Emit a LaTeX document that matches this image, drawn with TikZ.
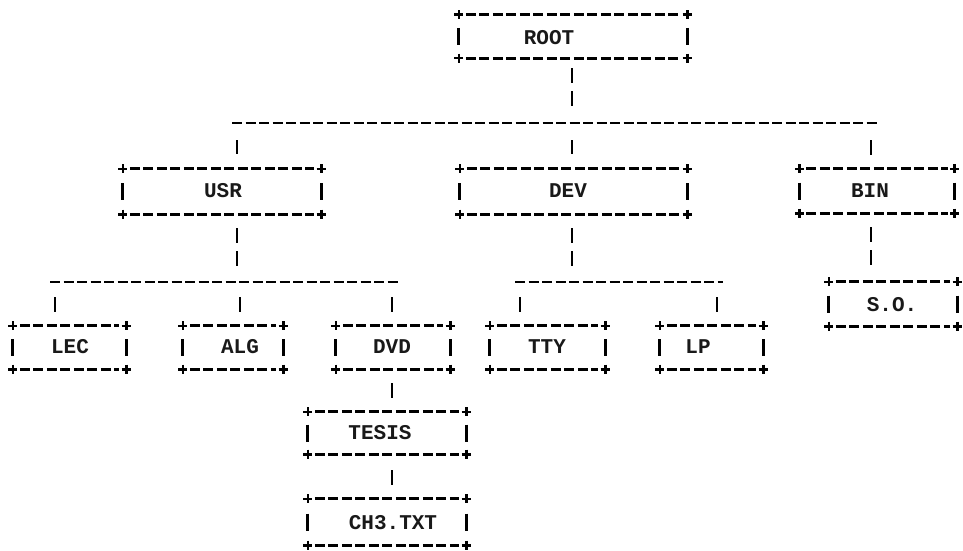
\documentclass[tikz,border=0pt]{standalone}
\usepackage{fontspec}
\setmonofont{Liberation Mono}
\usetikzlibrary{calc}
\tikzset{
  boxn/.style={rectangle, inner sep=0pt, draw=none},
  lbl/.style={inner sep=0pt, font=\ttfamily\bfseries\fontsize{21}{21}\selectfont, text=black!90},
  dl/.style={line width=2.8pt, dash pattern=on 10pt off 3.5pt, shorten <=7pt, shorten >=7pt},
  hl/.style={line width=2.8pt, dash pattern=on 10pt off 3.5pt},
  pl/.style={line width=2.6pt},
  sidebar/.style={line width=2.8pt},
  conn/.style={line width=2.8pt, dash pattern=on 15pt off 8pt},
}
\newcommand\asciibox[1]{%
  \draw[dl] (#1.north west) -- (#1.north east);
  \draw[dl] (#1.south west) -- (#1.south east);
  \foreach \a in {north west,north east,south west,south east}{
    \draw[pl] ($(#1.\a)+(-4.5,0)$) -- ($(#1.\a)+(4.5,0)$)
              ($(#1.\a)+(0,-4.5)$) -- ($(#1.\a)+(0,4.5)$);
  }
  \draw[sidebar] ($(#1.west)+(0,-8.5)$) -- ($(#1.west)+(0,8.5)$);
  \draw[sidebar] ($(#1.east)+(0,-8.5)$) -- ($(#1.east)+(0,8.5)$);
}
\begin{document}
\begin{tikzpicture}[x=1pt,y=-1pt]
\useasboundingbox[fill=white] (0,0) rectangle (963,551);
% boxes
\node[boxn, minimum width=228pt, minimum height=43pt] (root) at (573,36.5) {};
\node[boxn, minimum width=198pt, minimum height=45pt] (usr) at (222,191.5) {};
\node[boxn, minimum width=227pt, minimum height=45pt] (dev) at (573.5,191.5) {};
\node[boxn, minimum width=155pt, minimum height=44pt] (bin) at (877,191) {};
\node[boxn, minimum width=113pt, minimum height=43pt] (lec) at (69.5,347.5) {};
\node[boxn, minimum width=100pt, minimum height=43pt] (alg) at (233,347.5) {};
\node[boxn, minimum width=114pt, minimum height=43pt] (dvd) at (393,347.5) {};
\node[boxn, minimum width=115pt, minimum height=43pt] (tty) at (547.5,347.5) {};
\node[boxn, minimum width=103pt, minimum height=43pt] (lp) at (711.5,347.5) {};
\node[boxn, minimum width=128pt, minimum height=44pt] (so) at (893,304) {};
\node[boxn, minimum width=158pt, minimum height=42pt] (tesis) at (387,433) {};
\node[boxn, minimum width=158pt, minimum height=46pt] (ch3) at (387,522) {};
\foreach \b in {root,usr,dev,bin,lec,alg,dvd,tty,lp,so,tesis,ch3}{\asciibox{\b}}
% labels
\node[lbl] (troot) at (549,38) {ROOT};
\node[lbl] (tusr) at (223,191) {USR};
\node[lbl] (tdev) at (568,191) {DEV};
\node[lbl] (tbin) at (870,191) {BIN};
\node[lbl] (tlec) at (70,347) {LEC};
\node[lbl] (talg) at (240,347) {ALG};
\node[lbl] (tdvd) at (392,347) {DVD};
\node[lbl] (ttty) at (547,347) {TTY};
\node[lbl] (tlp) at (698,347) {LP};
\node[lbl] (tso) at (892,305) {S.O.};
\node[lbl] (ttesis) at (380,433) {TESIS};
\node[lbl] (tch3) at (393,523) {CH3.TXT};
% branch coordinates
\coordinate (h1a) at (232,123);
\coordinate (h1b) at (877,123);
\coordinate (h1r) at (572,123);
\coordinate (h1u) at (237,123);
\coordinate (h1d) at (572,123);
\coordinate (h1n) at (871,123);
\coordinate (h2a) at (50,282);
\coordinate (h2b) at (398,282);
\coordinate (h2u) at (237,282);
\coordinate (h2l) at (55,282);
\coordinate (h2g) at (240,282);
\coordinate (h2v) at (392,282);
\coordinate (h3a) at (515,282);
\coordinate (h3b) at (723,282);
\coordinate (h3d) at (572,282);
\coordinate (h3t) at (520,282);
\coordinate (h3p) at (717,282);
% horizontal lines
\draw[hl] (h1a) -- (h1b);
\draw[hl] (h2a) -- (h2b);
\draw[hl] (h3a) -- (h3b);
% connectors
\draw[conn, shorten <=10pt, shorten >=17pt] (h1r |- root.south) -- (h1r);
\draw[conn, shorten <=17pt, shorten >=15pt] (h1u) -- (h1u |- usr.north);
\draw[conn, shorten <=17pt, shorten >=15pt] (h1d) -- (h1d |- dev.north);
\draw[conn, shorten <=17pt, shorten >=14pt] (h1n) -- (h1n |- bin.north);
\draw[conn, shorten <=14pt, shorten >=16pt] (h2u |- usr.south) -- (h2u);
\draw[conn, shorten <=14pt, shorten >=16pt] (h3d |- dev.south) -- (h3d);
\draw[conn, shorten <=14pt, shorten >=16pt] (h1n |- bin.south) -- (h1n |- so.north);
\draw[conn, shorten <=15pt, shorten >=14pt] (h2l) -- (h2l |- lec.north);
\draw[conn, shorten <=15pt, shorten >=14pt] (h2g) -- (h2g |- alg.north);
\draw[conn, shorten <=15pt, shorten >=14pt] (h2v) -- (h2v |- dvd.north);
\draw[conn, shorten <=15pt, shorten >=14pt] (h3t) -- (h3t |- tty.north);
\draw[conn, shorten <=15pt, shorten >=14pt] (h3p) -- (h3p |- lp.north);
\draw[conn, shorten <=14pt, shorten >=14pt] (h2v |- dvd.south) -- (h2v |- tesis.north);
\draw[conn, shorten <=16pt, shorten >=14pt] (h2v |- tesis.south) -- (h2v |- ch3.north);
\end{tikzpicture}
\end{document}
